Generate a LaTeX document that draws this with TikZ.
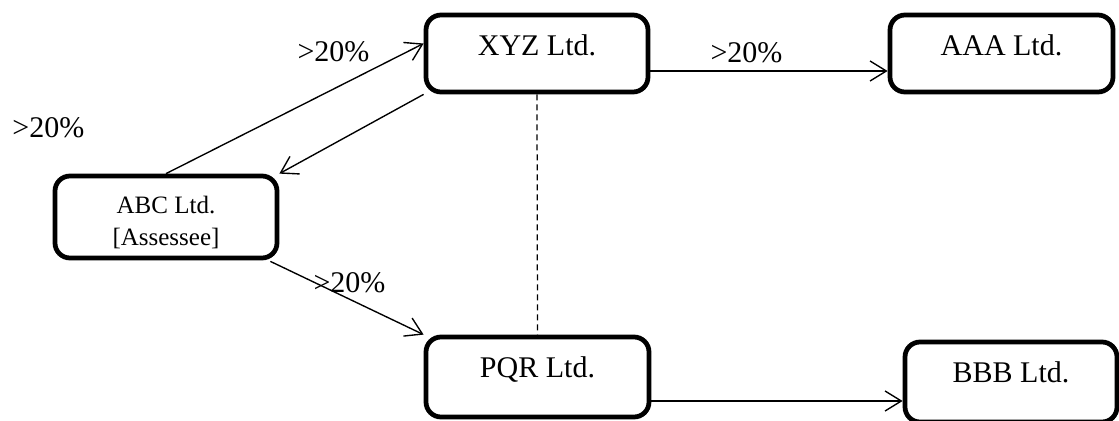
\documentclass[tikz,border=0pt]{standalone}
\usepackage{fontspec}
\setmainfont{Liberation Serif}
\usetikzlibrary{arrows.meta,calc}
\begin{document}
\begin{tikzpicture}[x=0.4pt,y=-0.4pt,
  firm/.style={draw, line width=1.9pt, rounded corners=6pt, inner sep=0pt,
    font=\fontsize{12}{14}\selectfont, text height=8pt, text depth=8pt},
  upper/.style={text height=8.8pt, text depth=7.2pt},
  conn/.style={line width=0.55pt,
    -{Straight Barb[length=6.5pt,width=8pt,line width=0.55pt]}},
  share/.style={font=\fontsize{12}{14}\selectfont, anchor=base west, inner sep=0pt},
  link/.style={line width=0.5pt, dash pattern=on 2.4pt off 1.6pt}]
\useasboundingbox (0,0) rectangle (1119,420);

% companies
\node[firm, upper, minimum width=88.8pt, minimum height=30.8pt] (xyz) at (537,53.5) {XYZ Ltd.};
\node[firm, upper, minimum width=89.2pt, minimum height=30.8pt] (aaa) at (1001.5,53.5) {AAA Ltd.};
\node[firm, minimum width=88.8pt, minimum height=32.8pt, align=center,
  font=\fontsize{10}{12.8}\selectfont, text height=25.4pt, text depth=3pt]
  (abc) at (166,217) {ABC Ltd.\\{[}Assessee{]}};
\node[firm, minimum width=89.2pt, minimum height=32pt] (pqr) at (537.5,377) {PQR Ltd.};
\node[firm, minimum width=84.8pt, minimum height=32pt] (bbb) at (1011,382) {BBB Ltd.};

% shareholdings
\draw[conn] (abc.north) -- ($(xyz.west)+(0,-10)$);
\draw[conn] (xyz.south west) -- (abc.north east);
\draw[conn] ($(abc.south east)+(-9,1)$) -- (pqr.north west);
\draw[conn] ($(xyz.east)+(0,17.5)$) -- ($(aaa.west)+(0,17.5)$);
\draw[conn] ($(pqr.east)+(0,24)$) -- ($(bbb.west)+(0,19)$);
\draw[link] (xyz.south) -- (pqr.north);

% percentages
\node[share] (l1) at (297,61) {>20\%};
\node[share] (l2) at (12,137) {>20\%};
\node[share] (l3) at (710,62) {>20\%};
\node[share] (l4) at (313,292) {>20\%};
\end{tikzpicture}
\end{document}
